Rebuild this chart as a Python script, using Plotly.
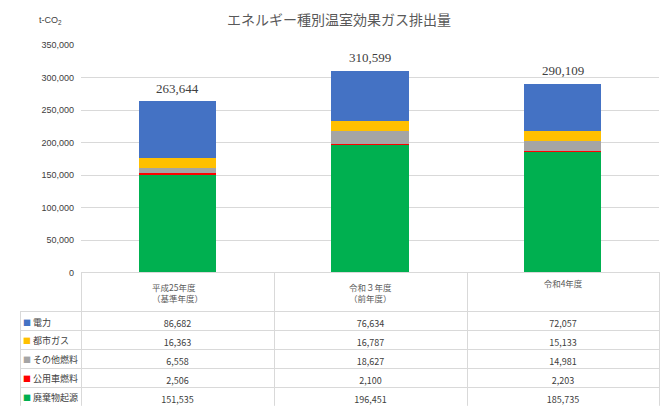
import plotly.graph_objects as go

# 年度と排出量（t-CO2）
years = ["平成25年度<br>（基準年度）", "令和３年度<br>（前年度）", "令和4年度"]
x_keys = ["H25", "R3", "R4"]

denryoku = [86682, 76634, 72057]
toshi_gas = [16363, 16787, 15133]
sonota = [6558, 18627, 14981]
koyosha = [2506, 2100, 2203]
haikibutsu = [151535, 196451, 185735]

# 下から積み上げる順
series = [
    ("廃棄物起源", haikibutsu, "#00B050"),
    ("公用車燃料", koyosha, "#FF0000"),
    ("その他燃料", sonota, "#A5A5A5"),
    ("都市ガス", toshi_gas, "#FFC000"),
    ("電力", denryoku, "#4472C4"),
]

totals = [sum(v) for v in zip(denryoku, toshi_gas, sonota, koyosha, haikibutsu)]

font_jp = "Noto Sans CJK JP, sans-serif"
grid = "#D9D9D9"
W, H = 662, 403  # ページの余白(8px)分を差し引いたサイズ
top, plot_h = 37, 231
head_h, row_h = 34, 19
paper_h = H - top
y_split = (paper_h - plot_h) / paper_h

fig = go.Figure()
for name, vals, col in series:
    fig.add_trace(go.Bar(x=x_keys, y=vals, name=name, marker_color=col,
                         marker_line_width=0, width=0.4))

# データテーブル（表の行は上から 電力 → 廃棄物起源）
table_rows = list(reversed(series))
first_col = ["" for _ in table_rows]  # 凡例ラベルは注釈で描く
cols = [first_col] + [[f"{vals[i]:,}" for _, vals, _ in table_rows] for i in range(3)]

fig.add_trace(go.Table(
    domain=dict(x=[0, 1], y=[0, y_split]),
    columnwidth=[61, 193, 193, 192],
    header=dict(values=[""] + years, height=head_h, align="center",
                fill=dict(color=["rgba(0,0,0,0)", "white", "white", "white"]),
                line=dict(color=["rgba(0,0,0,0)", grid, grid, grid], width=1),
                font=dict(family=font_jp, size=8.5, color="#595959")),
    cells=dict(values=cols, height=row_h, align="center",
               fill_color="white", line=dict(color=grid, width=1),
               font=dict(family=font_jp, size=9, color="#404040")),
))

annotations = [dict(text="t-CO<sub>2</sub>", xref="paper", yref="paper",
                    x=30 / 639, y=(H - 12) / paper_h, xanchor="center", yanchor="middle",
                    showarrow=False,
                    font=dict(family="Liberation Sans, sans-serif", size=9, color="#404040"))]

# 合計値ラベル
for xk, t in zip(x_keys, totals):
    annotations.append(dict(x=xk, y=t, text=f"{t:,}", showarrow=False, yshift=13,
                            font=dict(family="Liberation Serif, serif", size=13, color="#404040")))

# 表の凡例（色付き■＋系列名）
for i, (n, _, c) in enumerate(table_rows):
    y_px = top + plot_h + head_h + row_h * i + 16
    annotations.append(dict(text=f"<span style='color:{c};font-size:8px'>■</span> {n}",
                            xref="paper", yref="paper",
                            x=1 / 639, y=(H - y_px) / paper_h, xanchor="left", yanchor="middle",
                            showarrow=False,
                            font=dict(family=font_jp, size=9, color="#404040")))

fig.update_layout(
    width=W, height=H,
    margin=dict(l=12, r=11, t=top, b=0),
    barmode="stack",
    showlegend=False,
    plot_bgcolor="white",
    paper_bgcolor="white",
    font=dict(family=font_jp, color="#595959"),
    title=dict(text="エネルギー種別温室効果ガス排出量", x=0.5, xanchor="center",
               y=1 - 12 / H, yanchor="middle",
               font=dict(family=font_jp, size=14, color="#595959")),
    xaxis=dict(domain=[61 / 639, 1], showticklabels=False, showgrid=False,
               zeroline=False, showline=False),
    yaxis=dict(domain=[y_split, 1], range=[0, 350000], dtick=50000,
               tickformat=",", showgrid=True, gridcolor=grid, zeroline=False,
               tickfont=dict(family="Liberation Sans, sans-serif", size=9, color="#404040"),
               ticks="", ticklabelstandoff=6),
    annotations=annotations,
)

fig.write_html("out.html")
